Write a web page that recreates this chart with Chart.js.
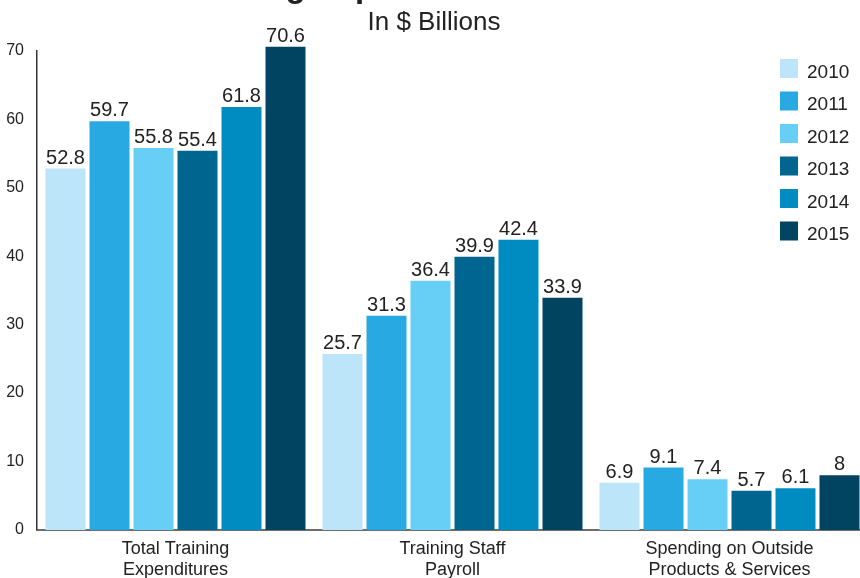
<!DOCTYPE html>
<html>
<head>
<meta charset="utf-8">
<script src="https://cdn.jsdelivr.net/npm/chart.js@4"></script>
<style>
  body { margin: 0; background: #fff; }
  #wrap { position: relative; width: 860px; height: 578px; overflow: hidden; }
  #chart { position: absolute; left: 0; top: -32px; }
</style>
</head>
<body>
<div id="wrap"><canvas id="chart" width="868" height="614"></canvas></div>
<script>
const categories = [
  ["Total Training", "Expenditures"],
  ["Training Staff", "Payroll"],
  ["Spending on Outside", "Products & Services"],
];
const years = ["2010", "2011", "2012", "2013", "2014", "2015"];
const yearColors = ["#bde5f9", "#28a9e1", "#67cef6", "#006690", "#008bc1", "#004462"];

const values2010 = [52.8, 25.7, 6.9];
const values2011 = [59.7, 31.3, 9.1];
const values2012 = [55.8, 36.4, 7.4];
const values2013 = [55.4, 39.9, 5.7];
const values2014 = [61.8, 42.4, 6.1];
const values2015 = [70.6, 33.9, 8];

const yTicks = [0, 10, 20, 30, 40, 50, 60, 70];

const seriesValues = [values2010, values2011, values2012, values2013, values2014, values2015];
const FONT = "'Liberation Sans', Arial, Helvetica, sans-serif";

// numbers above each bar
const barValueLabels = {
  id: "barValueLabels",
  afterDatasetsDraw(chart) {
    const ctx = chart.ctx;
    ctx.save();
    ctx.font = "20px " + FONT;
    ctx.fillStyle = "#222";
    ctx.textAlign = "center";
    ctx.textBaseline = "alphabetic";
    chart.data.datasets.forEach((ds, i) => {
      chart.getDatasetMeta(i).data.forEach((bar, j) => {
        ctx.fillText(String(ds.data[j]), bar.x, bar.y - 5);
      });
    });
    ctx.restore();
  },
};

// legend sitting inside the plot, top right
const sideLegend = {
  id: "sideLegend",
  afterDraw(chart) {
    const ctx = chart.ctx;
    ctx.save();
    ctx.font = "19px " + FONT;
    ctx.textBaseline = "alphabetic";
    ctx.textAlign = "left";
    chart.data.datasets.forEach((ds, i) => {
      const top = 91 + i * 32.5;
      ctx.fillStyle = ds.backgroundColor;
      ctx.fillRect(780, top, 18, 19);
      ctx.fillStyle = "#222";
      ctx.fillText(ds.label, 807, top + 18.5);
    });
    ctx.restore();
  },
};

new Chart(document.getElementById("chart"), {
  type: "bar",
  data: {
    labels: categories,
    datasets: years.map((y, i) => ({
      label: y,
      data: seriesValues[i],
      backgroundColor: yearColors[i],
      borderWidth: 0,
      categoryPercentage: 0.953,
      barPercentage: 0.909,
      clip: false,
    })),
  },
  options: {
    responsive: false,
    devicePixelRatio: 1,
    animation: false,
    layout: { padding: { left: 0, right: 0, top: 0, bottom: 0 } },
    plugins: {
      legend: { display: false },
      tooltip: { enabled: false },
      title: {
        display: true,
        text: "Training Expenditures 2010-2015",
        color: "#222",
        font: { family: FONT, size: 33, weight: "bold" },
        padding: { top: 0, bottom: 0 },
      },
      subtitle: {
        display: true,
        text: "In $ Billions",
        color: "#222",
        font: { family: FONT, size: 26 },
        padding: { top: 0, bottom: 12 },
      },
    },
    scales: {
      x: {
        grid: { display: false },
        border: { display: true, color: "#6d6d6d", width: 2 },
        ticks: {
          color: "#222",
          font: { family: FONT, size: 18, lineHeight: 1.17 },
          padding: 1,
          maxRotation: 0,
        },
      },
      y: {
        min: 0,
        max: 70,
        afterFit(scale) { scale.width = 37; },
        afterBuildTicks(scale) { scale.ticks = yTicks.map((v) => ({ value: v })); },
        grid: { display: false },
        border: { display: true, color: "#333", width: 1.5 },
        ticks: {
          color: "#222",
          font: { family: FONT, size: 16 },
          padding: 5,
        },
      },
    },
  },
  plugins: [barValueLabels, sideLegend],
});
</script>
</body>
</html>
